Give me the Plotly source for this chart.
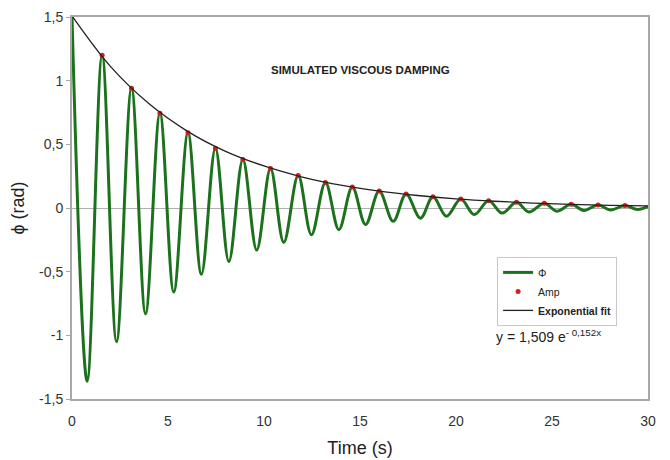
import plotly.graph_objects as go

# Extrema of the oscillation (peaks and troughs, alternating)
ext_time = [0.00, 0.79, 1.57, 2.32, 3.10, 3.83, 4.58, 5.30, 6.04, 6.74, 7.47, 8.17,
            8.90, 9.62, 10.34, 11.03, 11.78, 12.47, 13.20, 13.90, 14.60, 15.29,
            16.00, 16.73, 17.40, 18.15, 18.80, 19.50, 20.25, 20.95, 21.70, 22.40,
            23.15, 23.80, 24.60, 25.25, 26.00, 26.65, 27.40, 28.05, 28.80, 29.45, 30.00]
ext_phi = [1.50, -1.36, 1.20, -1.05, 0.94, -0.83, 0.745, -0.66, 0.59, -0.52, 0.47, -0.42,
           0.38, -0.33, 0.31, -0.27, 0.255, -0.21, 0.20, -0.17, 0.164, -0.13,
           0.133, -0.105, 0.109, -0.08, 0.088, -0.065, 0.071, -0.052, 0.057, -0.04,
           0.045, -0.032, 0.037, -0.025, 0.030, -0.019, 0.024, -0.015, 0.019, -0.011, 0.010]

# Amplitude points (red dots at the peaks)
amp_time = [1.57, 3.10, 4.58, 6.04, 7.47, 8.90, 10.34, 11.78, 13.20, 14.60,
            16.00, 17.40, 18.80, 20.25, 21.70, 23.15, 24.60, 26.00, 27.40, 28.80]
amp_value = [1.20, 0.94, 0.745, 0.59, 0.47, 0.38, 0.31, 0.255, 0.20, 0.164,
             0.133, 0.109, 0.088, 0.071, 0.057, 0.045, 0.037, 0.030, 0.024, 0.019]

# Exponential fit curve, read at regular times
fit_time = [0, 2, 4, 6, 8, 10, 12, 14, 16, 18, 20, 22, 24, 26, 28, 30]
fit_value = [1.509, 1.112, 0.820, 0.604, 0.445, 0.330, 0.243, 0.179, 0.132,
             0.098, 0.072, 0.053, 0.039, 0.029, 0.021, 0.016]

x_tick_vals = [0, 5, 10, 15, 20, 25, 30]
x_tick_text = ["0", "5", "10", "15", "20", "25", "30"]
y_tick_vals = [-1.5, -1, -0.5, 0, 0.5, 1, 1.5]
y_tick_text = ["-1,5", "-1", "-0,5", "0", "0,5", "1", "1,5"]

fig = go.Figure()
fig.add_trace(go.Scatter(
    x=ext_time, y=ext_phi, mode="lines", name="Φ",
    line=dict(color="#1c721c", width=3, shape="spline", smoothing=1.0)))
fig.add_trace(go.Scatter(
    x=amp_time, y=amp_value, mode="markers", name="Amp",
    marker=dict(color="#d02020", size=5)))
fig.add_trace(go.Scatter(
    x=fit_time, y=fit_value, mode="lines", name="<b>Exponential fit</b>",
    line=dict(color="#222222", width=1.3, shape="spline")))

axis_common = dict(showgrid=False, showline=True, mirror=True,
                   linecolor="#a8a8a8", linewidth=2, ticklabeloverflow="allow",
                   tickfont=dict(family="Liberation Sans, Arial", size=14, color="#333333"))

fig.update_layout(
    width=670, height=460, autosize=False,
    margin=dict(l=64, r=30, t=7, b=69),
    paper_bgcolor="white", plot_bgcolor="white",
    font=dict(family="Liberation Sans, Arial", color="#222222"),
    showlegend=True,
    legend=dict(x=0.738, y=0.372, xanchor="left", yanchor="top",
                bgcolor="white", bordercolor="#c8c8c8", borderwidth=1,
                font=dict(size=10.5, color="#222222"),
                tracegroupgap=0, itemwidth=30),
    xaxis=dict(range=[0, 30], tickvals=x_tick_vals, ticktext=x_tick_text,
               ticks="", zeroline=False, automargin=True, ticklabelstandoff=8,
               title=dict(text="Time (s)", font=dict(size=18, color="#222222"), standoff=14),
               **axis_common),
    yaxis=dict(range=[-1.5, 1.5], tickvals=y_tick_vals, ticktext=y_tick_text,
               ticks="outside", ticklen=4, tickcolor="#a8a8a8", automargin=False,
               zeroline=True, zerolinecolor="#b0b0b0", zerolinewidth=1,
               title=dict(text="ϕ (rad)", font=dict(size=18, color="#222222")),
               **axis_common),
    annotations=[
        dict(text="<b>SIMULATED VISCOUS DAMPING</b>", x=0.5, y=0.862,
             xanchor="center", yanchor="middle",
             xref="paper", yref="paper", showarrow=False,
             font=dict(size=11.5, color="#222222")),
        dict(text="y = 1,509 e<sup>- 0,152x</sup>", x=0.827, y=0.164,
             xanchor="center", yanchor="middle",
             xref="paper", yref="paper", showarrow=False,
             font=dict(size=14, color="#222222")),
    ],
)

fig.write_html("out.html")
